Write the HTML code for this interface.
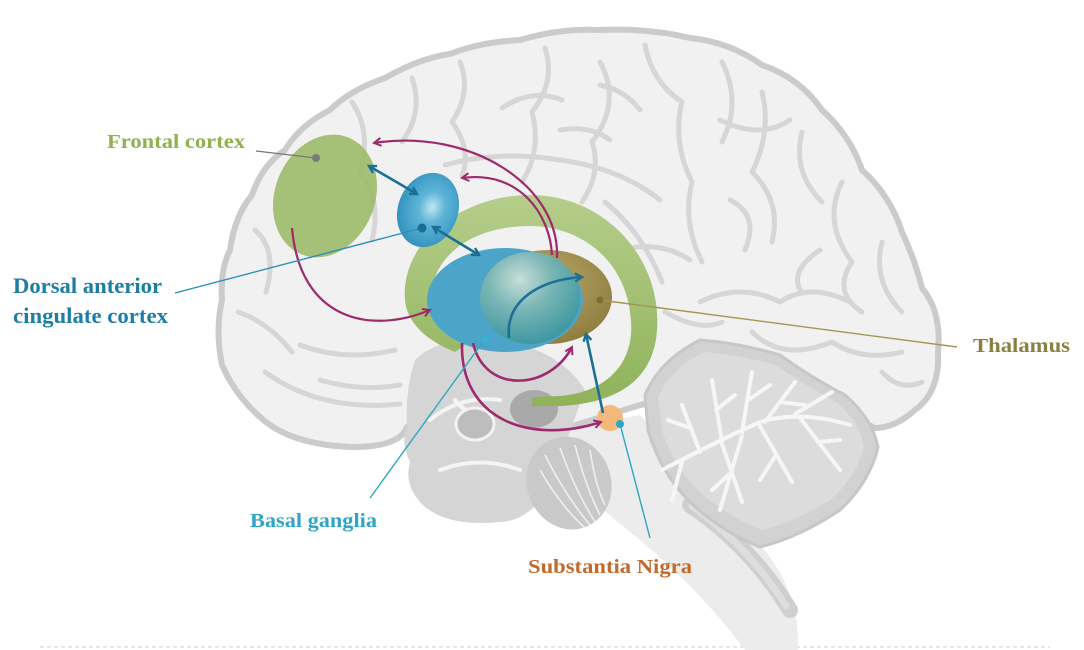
<!DOCTYPE html>
<html><head><meta charset="utf-8"><style>
html,body{margin:0;padding:0;background:#fff;}
svg{display:block;}
text{font-family:"Liberation Serif",serif;font-weight:bold;}
</style></head><body>
<svg width="1084" height="650" viewBox="0 0 1084 650" xmlns="http://www.w3.org/2000/svg">
<defs>
  <marker id="mg" markerWidth="12" markerHeight="12" refX="8" refY="5" orient="auto-start-reverse" markerUnits="userSpaceOnUse">
    <path d="M1,1 L8,5 L1,9" fill="none" stroke="#9e2a6e" stroke-width="2"/>
  </marker>
  <marker id="mb" markerWidth="12" markerHeight="12" refX="8" refY="5" orient="auto-start-reverse" markerUnits="userSpaceOnUse">
    <path d="M1,1 L8,5 L1,9" fill="none" stroke="#1c6f95" stroke-width="2.4"/>
  </marker>
  <radialGradient id="gacc" cx="55%" cy="45%" r="60%">
    <stop offset="0" stop-color="#c3e7f2"/>
    <stop offset="0.35" stop-color="#5fb5d8"/>
    <stop offset="1" stop-color="#2f8fbb"/>
  </radialGradient>
  <radialGradient id="gteal" cx="40%" cy="30%" r="70%">
    <stop offset="0" stop-color="#c9ded8"/>
    <stop offset="0.45" stop-color="#7ab6b5"/>
    <stop offset="1" stop-color="#3f98a2"/>
  </radialGradient>
  <radialGradient id="gthal" cx="45%" cy="35%" r="70%">
    <stop offset="0" stop-color="#b9a96a"/>
    <stop offset="1" stop-color="#8c7b3c"/>
  </radialGradient>
  <linearGradient id="ggreen" x1="0" y1="0" x2="0" y2="1">
    <stop offset="0" stop-color="#b5ce8b"/>
    <stop offset="1" stop-color="#8fb25a"/>
  </linearGradient>
</defs>

<!-- faint bottom line -->
<line x1="40" y1="647" x2="1050" y2="647" stroke="#e6e6e6" stroke-width="2" stroke-dasharray="4 3"/>

<!-- brainstem -->
<path d="M560,430 L640,415 Q700,480 760,545 Q800,590 798,650 L745,650 Q700,590 640,540 Q590,500 560,470 Z" fill="#ececec"/>
<path d="M690,505 Q750,545 790,610" fill="none" stroke="#cfcfcf" stroke-width="16" stroke-linecap="round"/>
<path d="M692,506 Q748,546 786,606" fill="none" stroke="#dedede" stroke-width="7" stroke-linecap="round"/>

<!-- cerebrum -->
<path d="M407,427 Q400,447 353,447 Q290,445 260,417 Q235,395 222,365 Q215,330 222,300 Q220,270 230,250 Q235,215 252,195 Q262,165 285,150 Q300,125 330,110 Q350,90 385,78 Q420,58 450,54 Q480,42 520,40 Q560,28 600,30 Q650,28 690,38 Q730,42 762,65 Q800,78 822,110 Q850,135 862,170 Q890,195 902,232 Q915,260 922,288 Q942,312 938,352 Q940,392 915,410 Q895,428 875,428 L780,380 L640,405 L560,430 Q520,380 470,380 Z" fill="#f1f1f1" stroke="#cbcbcb" stroke-width="6" stroke-linejoin="round"/>

<!-- sulci -->
<g fill="none" stroke="#d6d6d6" stroke-width="5" stroke-linecap="round" stroke-linejoin="round">
  <path d="M255,230 Q278,250 266,292"/>
  <path d="M238,312 Q268,322 292,352"/>
  <path d="M265,372 Q320,412 400,404"/>
  <path d="M300,345 Q345,362 395,350"/>
  <path d="M320,380 Q360,392 400,385"/>
  <path d="M352,102 Q372,132 360,172 Q382,200 372,240"/>
  <path d="M412,78 Q424,112 402,142"/>
  <path d="M460,62 Q472,92 452,122 Q472,150 462,176"/>
  <path d="M502,108 Q532,88 562,100"/>
  <path d="M545,48 Q556,82 532,112 Q542,150 522,182"/>
  <path d="M600,62 Q622,102 592,142 Q602,172 582,202"/>
  <path d="M645,45 Q652,82 682,102 Q672,142 692,182 Q682,222 702,262"/>
  <path d="M600,85 Q625,90 640,110"/>
  <path d="M722,62 Q742,102 722,142"/>
  <path d="M762,92 Q772,132 752,172 Q782,202 772,242"/>
  <path d="M802,132 Q792,172 822,202"/>
  <path d="M842,182 Q822,222 852,262 Q832,292 862,312"/>
  <path d="M882,242 Q872,282 902,312"/>
  <path d="M700,302 Q740,282 780,302 Q810,282 850,302"/>
  <path d="M665,312 Q700,332 722,322"/>
  <path d="M752,332 Q782,362 832,342 Q862,362 902,352"/>
  <path d="M882,372 Q900,392 922,382"/>
  <path d="M605,202 Q642,232 662,282"/>
  <path d="M445,165 Q500,150 560,160 Q620,168 660,200"/>
  <path d="M720,120 Q760,140 790,120"/>
  <path d="M820,250 Q790,270 800,290"/>
  <path d="M665,370 Q700,390 740,370"/>
  <path d="M620,250 Q660,240 690,260"/>
  <path d="M730,200 Q760,215 745,250"/>
  <path d="M560,130 Q590,125 610,140"/>
</g>

<!-- medial gray region -->
<path d="M415,360 Q440,335 500,340 Q560,350 585,390 L565,445 Q545,520 500,522 Q450,527 425,507 Q403,487 410,462 Q400,442 407,427 Q405,390 415,360 Z" fill="#d5d5d5"/>
<g fill="none" stroke="#f4f4f4" stroke-width="4" stroke-linecap="round">
  <path d="M430,420 Q460,395 500,400"/>
  <path d="M440,470 Q480,455 520,470"/>
  <path d="M455,400 Q470,420 490,410"/>
</g>
<ellipse cx="475" cy="424" rx="19" ry="16" fill="#bdbdbd" stroke="#f2f2f2" stroke-width="3"/>
<ellipse cx="534" cy="409" rx="24" ry="19" fill="#a9a9a9"/>

<!-- pons -->
<ellipse cx="569" cy="483" rx="42" ry="47" transform="rotate(-20 569 483)" fill="#c9c9c9"/>
<g fill="none" stroke="#efefef" stroke-width="1.6">
  <path d="M545,455 Q565,495 590,525"/>
  <path d="M560,448 Q575,490 595,522"/>
  <path d="M575,445 Q585,485 600,515"/>
  <path d="M590,450 Q595,485 605,505"/>
  <path d="M540,470 Q560,505 585,528"/>
</g>

<!-- cerebellum -->
<path d="M645,395 Q660,360 700,340 Q740,343 780,355 Q812,378 845,395 Q872,418 878,447 Q870,482 840,510 Q800,537 760,547 Q722,532 690,502 Q660,472 648,430 Z" fill="#d2d2d2" stroke="#c7c7c7" stroke-width="3"/>
<path d="M658,398 Q670,368 705,352 Q740,355 776,365 Q806,386 836,402 Q860,422 864,447 Q856,478 830,500 Q795,522 762,530 Q730,518 700,492 Q672,466 662,430 Z" fill="#dcdcdc"/>
<g fill="none" stroke="#f6f6f6" stroke-width="4" stroke-linecap="round" stroke-linejoin="round">
  <path d="M662,470 Q720,440 760,422 Q800,410 850,425"/>
  <path d="M700,452 L682,405 M690,428 L668,420"/>
  <path d="M722,442 L712,380 M716,410 L735,395"/>
  <path d="M742,432 L752,372 M748,400 L770,385"/>
  <path d="M765,422 L795,382 M780,402 L805,405"/>
  <path d="M795,414 L832,392"/>
  <path d="M722,444 L742,502 M732,472 L712,490"/>
  <path d="M760,426 L792,482 M776,455 L760,480"/>
  <path d="M800,418 L840,470 M818,442 L840,440"/>
  <path d="M682,462 L672,500"/>
  <path d="M742,436 L720,510"/>
</g>

<!-- frontal cortex -->
<ellipse cx="325" cy="196" rx="50" ry="63" transform="rotate(22 325 196)" fill="#9cba69" opacity="0.9"/>

<!-- green band -->
<path d="M405,300 C400,240 465,195 530,195 C605,195 662,258 657,330 C654,378 620,403 560,406 L531,406 L533,397 L560,396 C608,392 634,362 631,322 C628,262 582,226 530,226 C472,226 431,256 431,300 C431,320 445,335 465,345 L455,352 C425,340 407,322 405,300 Z" fill="url(#ggreen)"/>

<!-- dACC -->
<ellipse cx="428" cy="210" rx="30" ry="38" transform="rotate(20 428 210)" fill="url(#gacc)"/>

<!-- thalamus / basal ganglia -->
<ellipse cx="548" cy="297" rx="64" ry="47" fill="url(#gthal)"/>
<ellipse cx="505" cy="300" rx="78" ry="52" fill="#4ca4c9"/>
<ellipse cx="530" cy="298" rx="50" ry="46" fill="url(#gteal)"/>

<!-- substantia nigra -->
<circle cx="610" cy="418" r="13" fill="#f5b97c"/>

<!-- magenta arrows -->
<g fill="none" stroke="#9e2a6e" stroke-width="2.2">
  <path d="M557,258 C560,185 470,128 374,143" marker-end="url(#mg)"/>
  <path d="M552,255 C550,215 520,170 462,178" marker-end="url(#mg)"/>
  <path d="M292,228 C300,320 370,335 430,310" marker-end="url(#mg)"/>
  <path d="M473,343 C485,395 550,390 572,347" marker-end="url(#mg)" stroke-width="2.6"/>
  <path d="M462,343 C460,420 530,445 601,422" marker-end="url(#mg)" stroke-width="2.6"/>
</g>

<!-- blue arrows -->
<g fill="none" stroke="#1c6f95" stroke-width="2.6">
  <path d="M369,166 L417,194" marker-start="url(#mb)" marker-end="url(#mb)"/>
  <path d="M433,227 L479,255" marker-start="url(#mb)" marker-end="url(#mb)"/>
  <path d="M509,338 C505,300 540,280 582,277" marker-end="url(#mb)"/>
  <path d="M603,413 L586,334" marker-end="url(#mb)"/>
</g>

<!-- leader lines & dots -->
<line x1="256" y1="151" x2="316" y2="158" stroke="#777" stroke-width="1.2"/>
<circle cx="316" cy="158" r="4" fill="#7a7a7a"/>
<line x1="175" y1="293" x2="422" y2="228" stroke="#2a8fba" stroke-width="1.4"/>
<circle cx="422" cy="228" r="4.5" fill="#1a6d94"/>
<line x1="600" y1="300" x2="957" y2="347" stroke="#a39554" stroke-width="1.4"/>
<circle cx="600" cy="300" r="3.5" fill="#7c6f35"/>
<line x1="485" y1="339" x2="370" y2="498" stroke="#2ea5c6" stroke-width="1.4"/>
<circle cx="485" cy="339" r="4" fill="#3bb0d2"/>
<line x1="620" y1="424" x2="650" y2="538" stroke="#2ea5c6" stroke-width="1.4"/>
<circle cx="620" cy="424" r="4" fill="#2ea5c6"/>

<!-- labels -->
<text x="107" y="148" font-size="20" fill="#8fb24c" textLength="138" lengthAdjust="spacingAndGlyphs">Frontal cortex</text>
<text x="13" y="293" font-size="22" fill="#1c7ea5" textLength="149" lengthAdjust="spacingAndGlyphs">Dorsal anterior</text>
<text x="13" y="323" font-size="22" fill="#1c7ea5" textLength="155" lengthAdjust="spacingAndGlyphs">cingulate cortex</text>
<text x="250" y="527" font-size="20" fill="#2ea5c6" textLength="127" lengthAdjust="spacingAndGlyphs">Basal ganglia</text>
<text x="528" y="573" font-size="20" fill="#c2692b" textLength="164" lengthAdjust="spacingAndGlyphs">Substantia Nigra</text>
<text x="973" y="352" font-size="20" fill="#8b803f" textLength="97" lengthAdjust="spacingAndGlyphs">Thalamus</text>
</svg>
</body></html>
